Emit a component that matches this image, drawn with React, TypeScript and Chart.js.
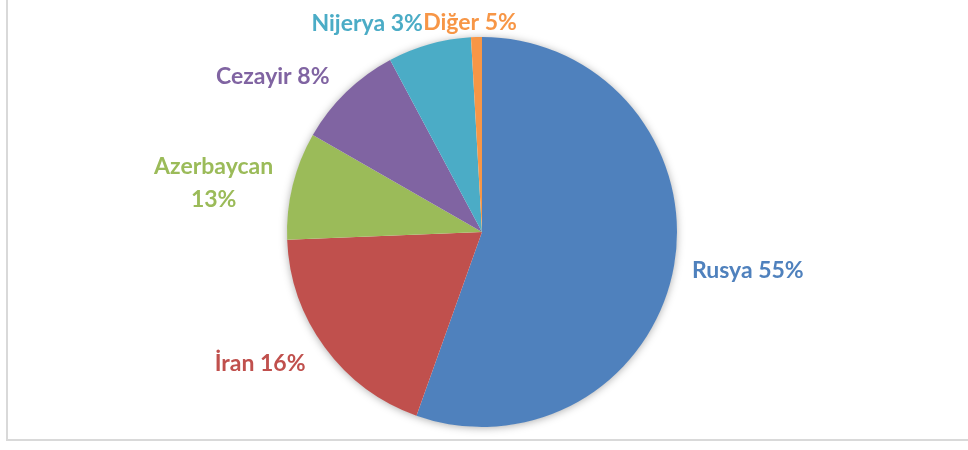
import React, { useEffect, useRef } from "react";
import { Chart, registerables } from "chart.js";

Chart.register(...registerables);

const categories = ["Rusya", "İran", "Azerbaycan", "Cezayir", "Nijerya", "Diğer"];
const sliceValues = [55.4, 18.9, 8.9, 8.9, 6.9, 0.9];
const labelLines = [["Rusya 55%"], ["İran 16%"], ["Azerbaycan", "13%"], ["Cezayir 8%"], ["Nijerya 3%"], ["Diğer 5%"]];
const colors = ["#4F81BD", "#C0504D", "#9BBB59", "#8064A2", "#4BACC6", "#F79646"];
const labelGap = [18, 24, 20, 24, 24, 17];

const FONT = "bold 23px Lato, 'Open Sans', sans-serif";

const shadowPlugin = {
  id: "pieShadow",
  beforeDatasetsDraw(chart: any) {
    const meta = chart.getDatasetMeta(0);
    const arc = meta.data[0];
    if (!arc) return;
    const { x, y, outerRadius } = arc.getProps(["x", "y", "outerRadius"], true);
    const ctx = chart.ctx;
    ctx.save();
    ctx.shadowColor = "rgba(0,0,0,0.35)";
    ctx.shadowBlur = 8;
    ctx.shadowOffsetX = 0;
    ctx.shadowOffsetY = 1;
    ctx.fillStyle = "#ffffff";
    ctx.beginPath();
    ctx.arc(x, y, outerRadius - 0.5, 0, Math.PI * 2);
    ctx.fill();
    ctx.restore();
  },
};

const labelPlugin = {
  id: "outLabels",
  afterDatasetsDraw(chart: any) {
    const meta = chart.getDatasetMeta(0);
    const ctx = chart.ctx;
    ctx.save();
    ctx.font = FONT;
    ctx.textBaseline = "middle";
    meta.data.forEach((el: any, i: number) => {
      const { x, y, startAngle, endAngle, outerRadius } = el.getProps(
        ["x", "y", "startAngle", "endAngle", "outerRadius"],
        true
      );
      const mid = (startAngle + endAngle) / 2;
      const r = outerRadius + labelGap[i];
      const px = x + Math.cos(mid) * r;
      const py = y + Math.sin(mid) * r;
      const lines = labelLines[i];
      const lh = 33;
      const widths = lines.map((l) => ctx.measureText(l).width);
      const boxW = Math.max(...widths);
      const c = Math.cos(mid);
      let boxLeft: number;
      if (Math.abs(c) < 0.1) boxLeft = px - boxW / 2 - 6;
      else if (c > 0) boxLeft = px;
      else boxLeft = px - boxW;
      const top = py - ((lines.length - 1) * lh) / 2 + 2;
      ctx.fillStyle = colors[i];
      ctx.textAlign = "center";
      lines.forEach((l, k) => {
        ctx.fillText(l, boxLeft + boxW / 2, top + k * lh);
      });
    });
    ctx.restore();
  },
};

export default function App() {
  const ref = useRef<HTMLCanvasElement | null>(null);
  useEffect(() => {
    if (!ref.current) return;
    const chart = new Chart(ref.current, {
      type: "pie",
      data: {
        labels: categories,
        datasets: [
          {
            data: sliceValues,
            backgroundColor: colors,
            borderWidth: 0,
          },
        ],
      },
      options: {
        animation: false,
        responsive: false,
        maintainAspectRatio: false,
        layout: { padding: { top: 37, bottom: 23, left: 0, right: 4 } },
        plugins: {
          legend: { display: false },
          tooltip: { enabled: false },
        },
      },
      plugins: [shadowPlugin, labelPlugin],
    });
    return () => chart.destroy();
  }, []);
  return (
    <div style={{ position: "fixed", left: 0, top: 0, width: 968, height: 450, background: "#fff", overflow: "hidden" }}>
      <div
        style={{
          position: "absolute",
          left: 6,
          top: -10,
          width: 1000,
          height: 443 + 10 - 4 + 2,
          border: "2px solid #d9d9d9",
          boxSizing: "border-box",
        }}
      />
      <canvas ref={ref} width={968} height={450} style={{ position: "absolute", left: 0, top: 0, width: 968, height: 450 }} />
    </div>
  );
}
